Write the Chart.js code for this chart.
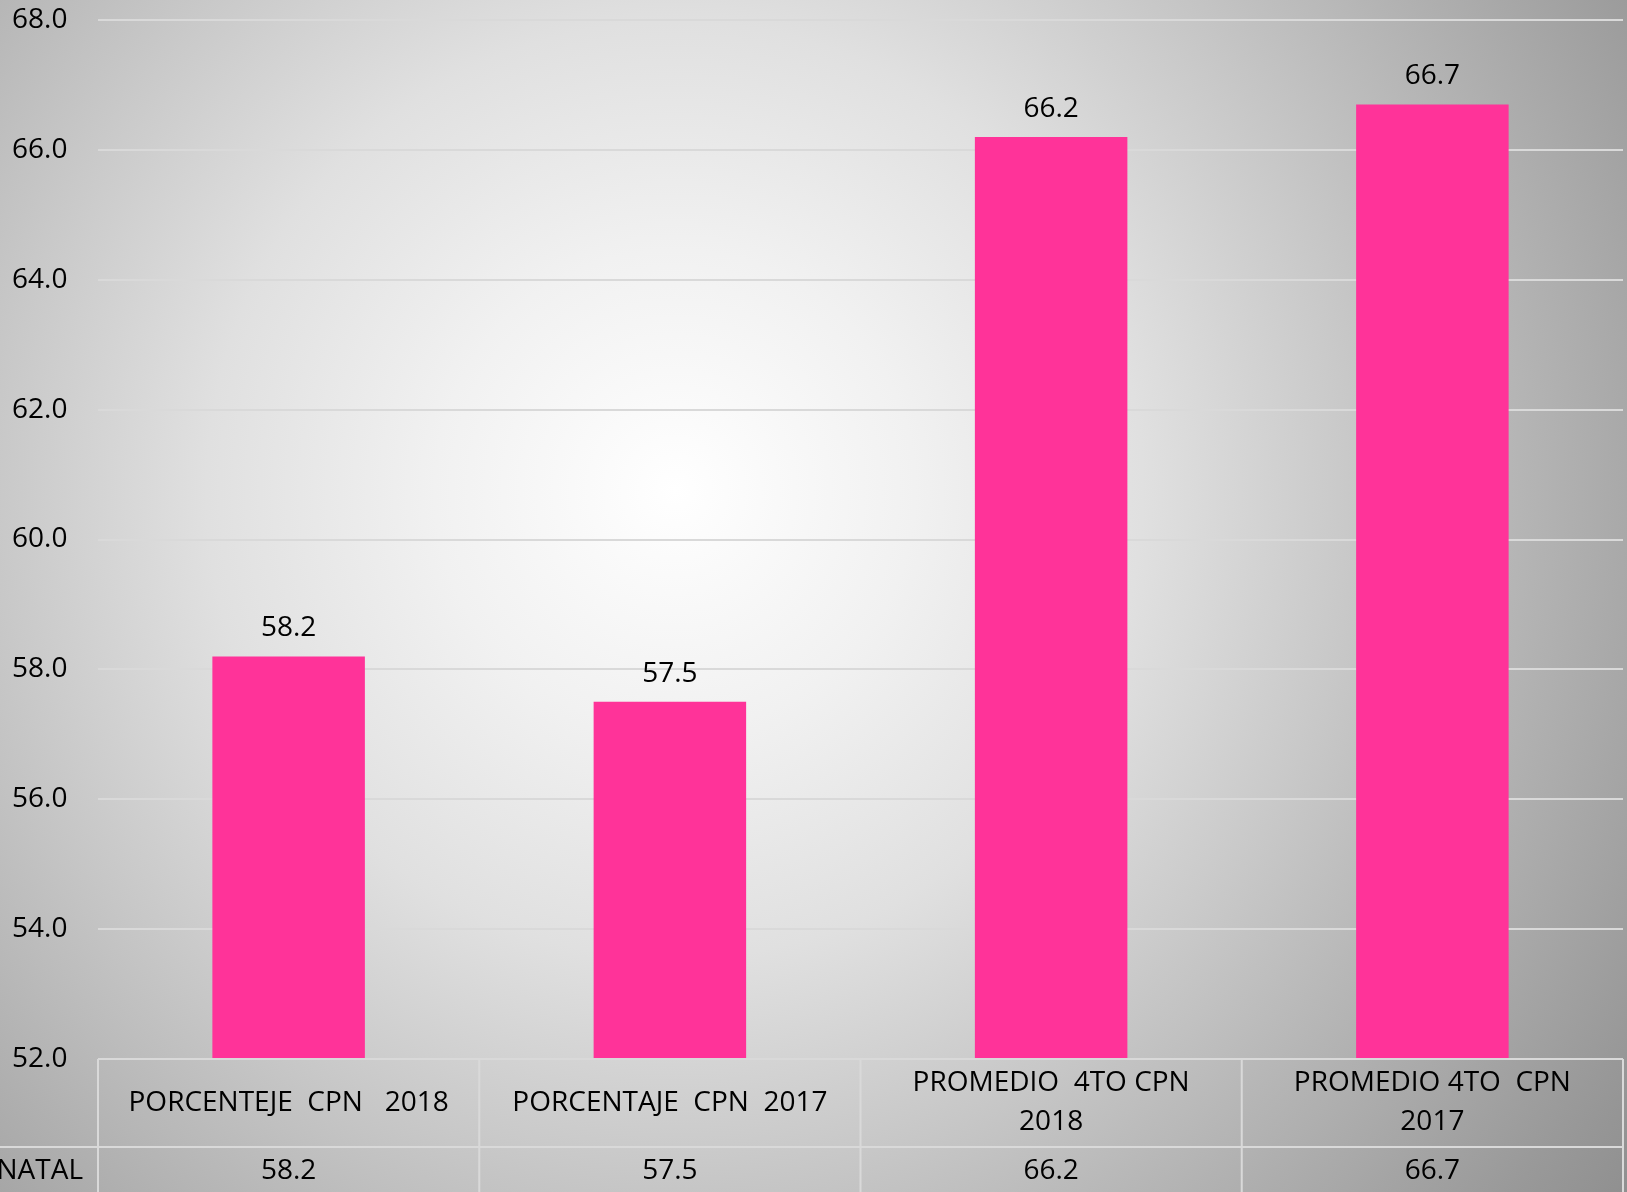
<!DOCTYPE html>
<html>
<head>
<meta charset="utf-8">
<style>
  html, body { margin: 0; padding: 0; overflow: hidden; background: #bdbdbd; }
  #wrap { width: 1627px; height: 1192px; position: relative; }
</style>
<script src="https://cdn.jsdelivr.net/npm/chart.js@4.4.0/dist/chart.umd.min.js"></script>
</head>
<body>
<div id="wrap"><canvas id="chart"></canvas></div>
<script>
// ── DATA ──────────────────────────────────────────────────────────────
const categories = [
  ['PORCENTEJE  CPN   2018'],
  ['PORCENTAJE  CPN  2017'],
  ['PROMEDIO  4TO CPN', '2018'],
  ['PROMEDIO 4TO  CPN', '2017']
];
const seriesName = 'NATAL';
const values = [58.2, 57.5, 66.2, 66.7];
const yMin = 52, yMax = 68, yStep = 2;

const FONT = "'Open Sans', sans-serif";
const TEXT = '#000000';
const LINE = '#d9d9d9';

Chart.defaults.font.family = FONT;
Chart.defaults.color = TEXT;

// radial grey background behind everything
const bgPlugin = {
  id: 'bg',
  beforeDraw(chart) {
    const { ctx, width, height } = chart;
    const g = ctx.createRadialGradient(675, 490, 0, 675, 490, 1200);
    g.addColorStop(0, '#ffffff');
    g.addColorStop(0.2, '#f1f1f1');
    g.addColorStop(0.39, '#e0e0e0');
    g.addColorStop(0.56, '#c9c9c9');
    g.addColorStop(0.74, '#b0b0b0');
    g.addColorStop(0.91, '#999999');
    g.addColorStop(1, '#8e8e8e');
    ctx.save();
    ctx.fillStyle = g;
    ctx.fillRect(0, 0, width, height);
    ctx.restore();
  }
};

// value labels above bars + the data table under the plot
const tablePlugin = {
  id: 'table',
  afterDatasetsDraw(chart) {
    const { ctx, chartArea, scales } = chart;
    const meta = chart.getDatasetMeta(0);
    const x = scales.x;
    const top = chartArea.bottom;
    const mid = top + 88;
    const bottom = chart.height;
    const left = chartArea.left, right = chartArea.right;
    const colW = (right - left) / categories.length;

    ctx.save();
    ctx.font = '28px ' + FONT;
    ctx.fillStyle = TEXT;
    ctx.textAlign = 'center';
    ctx.textBaseline = 'middle';

    meta.data.forEach((bar, i) => {
      ctx.fillText(values[i].toFixed(1), bar.x, bar.y - 28);
    });

    // grid of the table
    ctx.strokeStyle = LINE;
    ctx.lineWidth = 2;
    ctx.beginPath();
    ctx.moveTo(left, top); ctx.lineTo(right, top);
    ctx.moveTo(0, mid); ctx.lineTo(right, mid);
    for (let i = 0; i <= categories.length; i++) {
      const cx = left + i * colW;
      ctx.moveTo(cx, top); ctx.lineTo(cx, bottom);
    }
    ctx.stroke();

    categories.forEach((lines, i) => {
      const cx = x.getPixelForValue(i);
      const lh = 39;
      const y0 = (top + mid) / 2 - (lines.length - 1) * lh / 2;
      lines.forEach((t, j) => ctx.fillText(t, cx, y0 + j * lh));
      ctx.fillText(values[i].toFixed(1), cx, mid + 24);
    });

    ctx.textAlign = 'right';
    ctx.fillText(seriesName, left - 15, mid + 24);
    ctx.restore();
  }
};

new Chart(document.getElementById('chart'), {
  type: 'bar',
  data: {
    labels: categories,
    datasets: [{
      label: seriesName,
      data: values,
      backgroundColor: '#ff3399',
      borderWidth: 0,
      barPercentage: 0.4,
      categoryPercentage: 1.0
    }]
  },
  options: {
    responsive: true, maintainAspectRatio: false,
    animation: false,
    layout: { padding: { left: 12, right: 4, top: 20, bottom: 133 } },
    plugins: { legend: { display: false }, tooltip: { enabled: false } },
    scales: {
      x: { display: false },
      y: {
        min: yMin, max: yMax,
        afterFit(s) { s.width = 86; },
        border: { display: false },
        grid: { color: LINE, lineWidth: 2, drawTicks: false },
        ticks: {
          stepSize: yStep,
          crossAlign: 'far',
          color: TEXT,
          font: { size: 28 },
          callback: v => v.toFixed(1)
        }
      }
    }
  },
  plugins: [bgPlugin, tablePlugin]
});
</script>
</body>
</html>
